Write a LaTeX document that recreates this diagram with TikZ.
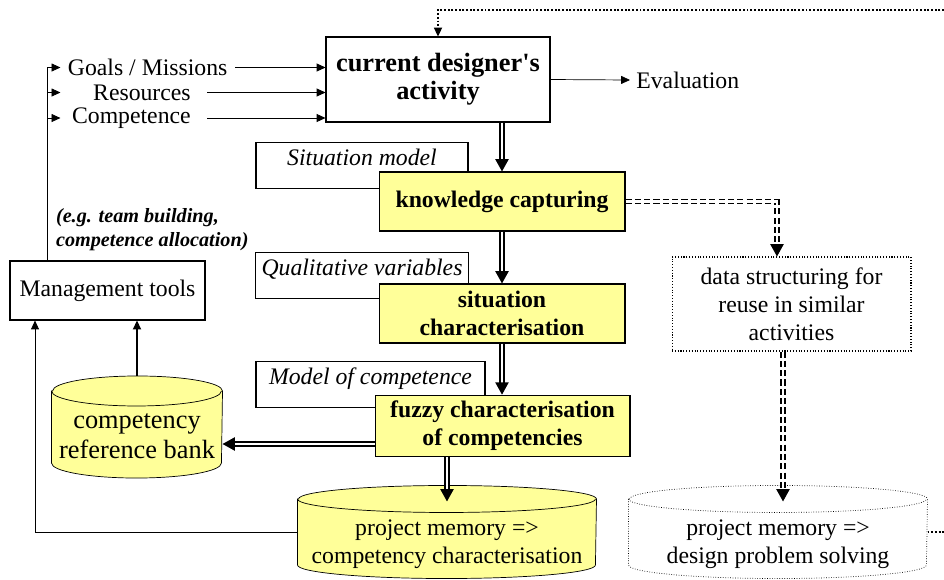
\documentclass[tikz,border=0pt]{standalone}
\usepackage{fontspec}
\setmainfont{Liberation Serif}
\usetikzlibrary{arrows.meta,backgrounds,positioning}
\definecolor{capyellow}{HTML}{FFFF99}
\newcommand{\basefont}{\fontsize{13.5}{16}\selectfont}
\newcommand{\drawdb}[4][]{%
    \draw[#1] ([yshift=-#4]#2.north west) -- ([yshift=#4]#2.south west)
        arc[start angle=180, end angle=360, x radius=#3, y radius=#4]
        -- ([yshift=-#4]#2.north east)
        arc[start angle=0, end angle=180, x radius=#3, y radius=#4] -- cycle;
    \draw[#1, fill=none] ([yshift=-#4]#2.north west)
        arc[start angle=180, end angle=360, x radius=#3, y radius=#4];}

\begin{document}
\begin{tikzpicture}
        [
            x = 0.02cm, y = -0.02cm,
            line width = 0.6pt,
            every node/.style = {font=\basefont},
            plainbox/.style = {draw, fill=white, align=center},
            actbox/.style = {plainbox, minimum width=4.48cm, minimum height=1.7cm, font=\bfseries\fontsize{15}{16}\selectfont},
            infobox/.style = {draw, fill=white, anchor=north, inner ysep=3pt, text height=10pt, text depth=10pt, minimum width=4.24cm, font=\itshape\basefont},
            stagebox/.style = {draw, fill=capyellow, align=center, minimum width=4.92cm, minimum height=1.18cm, font=\bfseries\basefont},
            dbframe/.style = {inner sep=0pt},
            dbtext/.style = {align=center},
            flow/.style = {-{Triangle[length=5pt,width=4.5pt]}},
            bigflow/.style = {double, double distance=1.4pt, line width=0.9pt, -{Triangle[length=7pt,width=7.5pt]}},
            dataflow/.style = {bigflow, dash pattern=on 3.5pt off 1.8pt},
            backline/.style = {densely dotted, line width=1.1pt},
        ]

        \useasboundingbox (0,0) rectangle (944,579);

        \node[actbox] (act) at (438,79.5) {current designer\textquotesingle s\\activity};

        \node[anchor=east, inner xsep=4pt] (goals) at (235,67.5) {Goals / Missions};
        \node[anchor=east, inner xsep=9pt] (res) at (207,92.5) {Resources};
        \node[anchor=east, inner xsep=9pt] (comp) at (207,118) {Competence};
        \node[anchor=west] (eval) at (630,80) {Evaluation};

        \node[plainbox, minimum width=3.9cm, minimum height=1.18cm] (mgmt) at (107.5,290.5) {Management tools};
        \node[anchor=west, align=left, inner sep=2pt, font=\bfseries\itshape\fontsize{11.5}{13.6}\selectfont] (eg) at (52,230)
            {(e.g. team building,\\competence allocation)};

        \node[infobox] (sitmod) at (362,142) {Situation model};
        \node[infobox] (qualvar) at (362,252) {Qualitative variables};
        \node[infobox, minimum width=4.58cm] (compmod) at (370.5,361) {Model of competence};

        \node[stagebox] (kc) at (502,201.5) {knowledge capturing};
        \node[stagebox] (sc) at (502,313.5) {situation\\characterisation};
        \node[stagebox, minimum width=5.1cm, minimum height=1.2cm] (fc) at (502.5,426) {fuzzy characterisation\\of competencies};

        \node[plainbox, densely dotted, minimum width=4.78cm, minimum height=1.88cm] (data) at (791.5,304)
            {data structuring for\\reuse in similar\\activities};

        \node[dbframe, minimum width=3.4cm, minimum height=2.02cm] (crb) at (137,427) {};
        \node[dbtext, font=\fontsize{15}{17}\selectfont] (crbtext) at (137,436) {competency\\reference bank};
        \node[dbframe, minimum width=5.96cm, minimum height=1.84cm] (pm1) at (447,532) {};
        \node[dbtext] (pm1text) at (447,544) {project memory =>\\competency characterisation};
        \node[dbframe, minimum width=5.96cm, minimum height=1.84cm] (pm2) at (778,532) {};
        \node[dbtext] (pm2text) at (778,544) {project memory =>\\design problem solving};

        \begin{pgfonlayer}{background}
            \drawdb[fill=capyellow]{crb}{1.7cm}{0.3cm}
            \drawdb[fill=capyellow]{pm1}{2.98cm}{0.27cm}
            \drawdb[fill=white, densely dotted]{pm2}{2.98cm}{0.27cm}
        \end{pgfonlayer}

        \draw[flow] (goals.east) -- (goals.east -| act.west);
        \draw[flow] (res.east) -- (res.east -| act.west);
        \draw[flow] (comp.east) -- (comp.east -| act.west);
        \draw[flow] (act.east) -- (eval.west);

        \coordinate (bus) at (47,67.5);
        \draw (mgmt.north -| bus) -- (bus);
        \draw[flow] (bus) -- (goals.west);
        \draw[flow] (bus |- res) -- (goals.west |- res);
        \draw[flow] (bus |- comp) -- (goals.west |- comp);

        \coordinate (loopT) at (944,10);
        \coordinate (loopB) at (944,532);
        \draw[backline, flow] (loopT) -| (act.north);
        \draw[backline] (pm2.east) -- (loopB);

        \draw[bigflow] (act.south -| kc.north) -- (kc.north);
        \draw[bigflow] (kc.south) -- (sc.north);
        \draw[bigflow] (sc.south) -- (sc.south |- fc.north);
        \coordinate (fcout) at ([yshift=-0.36cm]fc.west);
        \draw[bigflow] (fcout) -- (fcout -| crb.east);
        \coordinate (pm1in) at ([yshift=-0.32cm]pm1.north);
        \draw[bigflow] (fc.south -| pm1in) -- (pm1in);

        \draw[dataflow] (kc.east) -| ([xshift=-0.29cm]data.north);
        \coordinate (dataout) at ([xshift=-0.17cm]data.south);
        \coordinate (pm2in) at ([yshift=-0.32cm]pm2.north);
        \draw[dataflow] (dataout) -- (dataout |- pm2in);

        \draw[flow, line width=1.1pt] (crb.north) -- (crb.north |- mgmt.south);
        \draw[flow] (pm1.west) -| ([xshift=-1.45cm]mgmt.south);

    \end{tikzpicture}
\end{document}
